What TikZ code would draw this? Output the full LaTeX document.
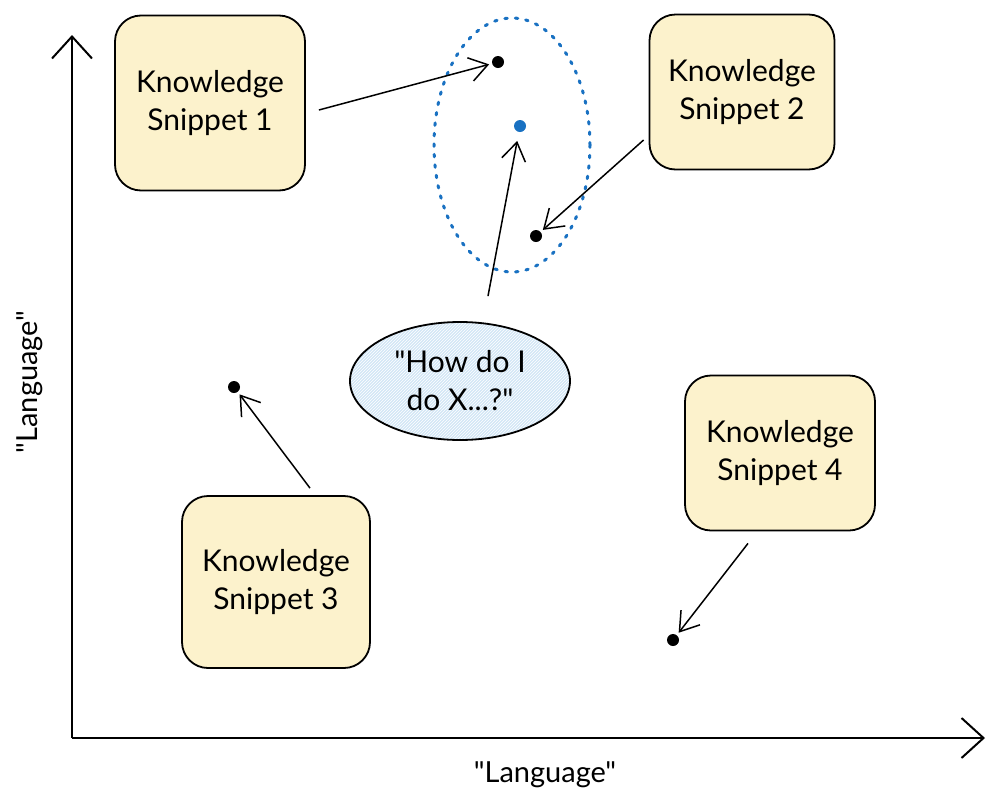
\documentclass[tikz,border=0pt]{standalone}
\usepackage{fontspec}
\setmainfont{Lato}[Ligatures=TeXOff]
\usetikzlibrary{arrows.meta,shapes.geometric,patterns}
\definecolor{snipfill}{HTML}{FCF2CC}
\definecolor{qblue}{HTML}{1971C2}
\definecolor{qfill}{HTML}{D3E6F6}
\begin{document}
\begin{tikzpicture}[x=1pt,y=-1pt,
    snip/.style={draw,line width=1.8pt,rounded corners=26pt,fill=snipfill,align=center,
      font=\fontsize{30}{38}\selectfont},
    dot/.style={circle,fill=black,inner sep=0pt,minimum size=12pt},
    arr/.style={-{Straight Barb[length=18pt,width=24pt]},line width=1.5pt,shorten >=3pt},
    axis/.style={-{Straight Barb[length=22pt,width=40pt]},line width=2pt},
    lab/.style={font=\fontsize{29}{30}\selectfont}]
  \useasboundingbox (0,0) rectangle (986,801);
  % axes
  \coordinate (o) at (72,738);
  \coordinate (xend) at (985,738);
  \coordinate (yend) at (72,35);
  \draw[axis] (o) -- (xend);
  \draw[axis] (o) -- (yend);
  \node[lab] (xlab) at (545,775) {"Language"};
  \node[lab,rotate=90] (ylab) at (30,382) {"Language"};
  % knowledge snippets
  \node[snip,minimum width=190pt,minimum height=175pt] (s1) at (210,103) {Knowledge\\Snippet 1};
  \node[snip,minimum width=185pt,minimum height=155pt] (s2) at (742,92) {Knowledge\\Snippet 2};
  \node[snip,minimum width=188pt,minimum height=172pt] (s3) at (276,582) {Knowledge\\Snippet 3};
  \node[snip,minimum width=190pt,minimum height=155pt] (s4) at (780,453) {Knowledge\\Snippet 4};
  % neighbourhood of the question
  \node[ellipse,draw=qblue,line width=3pt,dash pattern=on 2.5pt off 8pt,line cap=round,
    minimum width=156pt,minimum height=254pt] (near) at (512,145) {};
  \node[dot] (d1) at (498,62) {};
  \node[dot,fill=qblue] (dq) at (520,126) {};
  \node[dot] (d2) at (536,236) {};
  \node[dot] (d3) at (234,387) {};
  \node[dot] (d4) at (673,640) {};
  % question
  \node[ellipse,draw,line width=1.8pt,preaction={fill=qfill},pattern=north east lines,
    pattern color=white,minimum width=220pt,minimum height=118pt,align=center,
    font=\fontsize{30}{38}\selectfont] (q) at (460,381) {"How do I\\do X...?"};
  % arrows
  \draw[arr] ([shift={(13pt,-7pt)}]s1.east) -- (d1);
  \draw[arr] ([shift={(-5pt,-48pt)}]s2.west) -- (d2);
  \draw[arr,shorten >=9pt] ([shift={(28pt,25pt)}]q.north) -- (dq);
  \draw[arr] ([shift={(34pt,7pt)}]s3.north) -- (d3);
  \draw[arr] ([shift={(-32pt,-12pt)}]s4.south) -- (d4);
\end{tikzpicture}
\end{document}
